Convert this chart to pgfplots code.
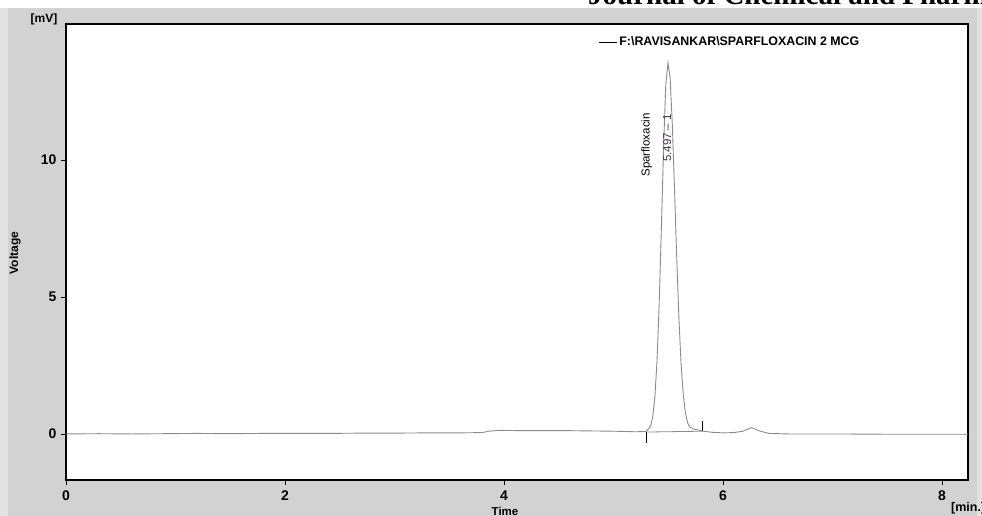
\documentclass[border=0pt]{standalone}
\usepackage{fontspec}
\setmainfont{Liberation Sans}
\newfontfamily\journalfont{Liberation Serif}
\usepackage{pgfplots}
\pgfplotsset{compat=1.18}
\definecolor{panelgrey}{HTML}{D2D2D2}
\definecolor{edgegrey}{HTML}{E2E2E2}
\definecolor{traceGrey}{HTML}{8C8C8C}
\definecolor{rtPurple}{HTML}{4A3050}

\begin{document}
\begin{tikzpicture}[x=1pt,y=1pt]
\useasboundingbox (0,0) rectangle (982,516);
\clip (0,0) rectangle (982,516);
% window background
\fill[white] (0,0) rectangle (982,516);
\fill[panelgrey] (0,0) rectangle (982,508);
\fill[edgegrey] (0,0) rectangle (8,508);
\fill[edgegrey] (977,0) rectangle (982,508);
% journal header, cut off at the top
\node[anchor=base west, inner sep=0pt, font=\journalfont\bfseries\fontsize{29}{29}\selectfont]
  at (588,511) {Journal of Chemical and Pharmaceutical Research};

\begin{axis}[
    at={(66pt,36pt)}, anchor=south west,
    scale only axis,
    width=902pt, height=456pt,
    xmin=0, xmax=8.237,
    ymin=-1.68, ymax=14.96,
    xtick={0,2,4,6,8},
    ytick={0,5,10},
    xtick pos=bottom, ytick pos=left,
    tick align=outside,
    major tick length=5pt,
    tick style={black, line width=0.8pt},
    axis line style={black, line width=1.6pt},
    axis background/.style={fill=white},
    ticklabel style={font=\bfseries\fontsize{14}{14}\selectfont},
    /pgf/number format/assume math mode=true,
    xticklabel style={yshift=-2pt},
    yticklabel style={xshift=-1pt},
    legend style={at={(0.59,0.9605)}, anchor=west, draw=none, fill=none,
      font=\bfseries\fontsize{12.4}{12.4}\selectfont, inner sep=0pt},
    legend image code/.code={\draw[#1] (0pt,0pt) -- (18pt,0pt);},
]
\addlegendimage{black, line width=1pt}
\addlegendentry{F:\textbackslash RAVISANKAR\textbackslash SPARFLOXACIN 2 MCG}

\addplot[traceGrey, line width=0.9pt, forget plot] coordinates {
  (0,0.00)(0.3,0.01)(0.6,0.00)(0.9,0.01)(1.2,0.02)(1.5,0.01)(1.8,0.02)
  (2.1,0.02)(2.4,0.02)(2.7,0.03)(3.0,0.03)(3.3,0.04)(3.6,0.04)(3.8,0.05)
  (3.86,0.10)(3.95,0.13)(4.2,0.12)(4.6,0.12)(5.0,0.10)(5.2,0.08)
  (5.297,0.09)(5.337,0.27)(5.357,0.60)(5.377,1.32)(5.397,2.66)(5.417,4.77)
  (5.437,7.54)(5.457,10.47)(5.477,12.74)(5.497,13.54)(5.517,12.98)
  (5.537,11.27)(5.557,8.91)(5.577,6.42)(5.597,4.22)(5.617,2.54)(5.637,1.42)
  (5.657,0.75)(5.677,0.40)(5.697,0.25)(5.73,0.18)(5.78,0.14)(5.82,0.10)
  (5.9,0.06)(6.0,0.04)(6.1,0.05)(6.18,0.10)(6.26,0.23)(6.34,0.10)(6.42,0.02)
  (6.6,0.00)(7.0,0.00)(7.5,-0.01)(8.0,-0.01)(8.237,-0.01)
};
% integration baseline and markers
\addplot[traceGrey, line width=0.8pt, forget plot] coordinates {(5.30,0.07)(5.81,0.10)};
\addplot[black, line width=1.4pt, forget plot] coordinates {(5.30,0.07)(5.30,-0.33)};
\addplot[black, line width=1.4pt, forget plot] coordinates {(5.81,0.10)(5.81,0.47)};

\node[rotate=90, font=\fontsize{11.5}{11.5}\selectfont, inner sep=0pt]
  at (axis cs:5.303,10.55) {Sparfloxacin};
\node[rotate=90, font=\fontsize{11.5}{11.5}\selectfont, text=rtPurple, inner sep=0pt]
  at (axis cs:5.49,10.8) {5.497 -- 1};
\end{axis}

% axis titles in the window margins
\node[font=\bfseries\fontsize{12}{12}\selectfont] at (44,497) {[mV]};
\node[rotate=90, font=\bfseries\fontsize{12}{12}\selectfont] at (15,263) {Voltage};
\node[font=\bfseries\fontsize{11.5}{11.5}\selectfont] at (505,5) {Time};
\node[anchor=west, inner sep=0pt, font=\bfseries\fontsize{12.5}{12.5}\selectfont] at (951,8) {[min.]};
\end{tikzpicture}
\end{document}
